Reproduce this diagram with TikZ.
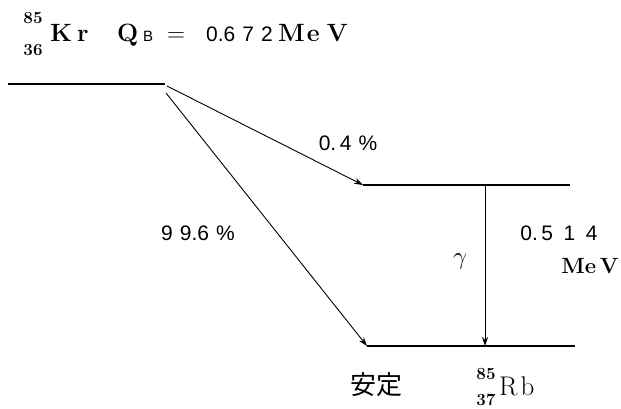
\documentclass[tikz,border=0pt]{standalone}
\usepackage{fontspec}
\newfontfamily\cjk{Noto Sans CJK JP}
\newfontfamily\digits{Liberation Sans}
\usetikzlibrary{arrows.meta,calc,positioning}
\tikzset{
  level/.style={line width=1.8pt},
  decay/.style={line width=0.9pt,-{Stealth[length=9pt,width=6pt]}},
  lbl/.style={inner sep=0pt,font=\fontsize{21}{24}\selectfont},
  big/.style={inner sep=0pt,anchor=base west,font=\fontsize{25}{28}\selectfont\bfseries},
  nuc/.style={inner sep=0pt,font=\fontsize{17}{19}\selectfont\bfseries},
}

\begin{document}
\begin{tikzpicture}[x=1pt,y=1pt]
      \useasboundingbox (0,0) rectangle (621,408);
      % levels
      \coordinate (krL) at (8,324);   \coordinate (krR) at (165,324);
      \coordinate (exL) at (363,223); \coordinate (exR) at (570,223);
      \coordinate (gsL) at (367,62);  \coordinate (gsR) at (575,62);
      \coordinate (gmT) at (485,223); \coordinate (gmB) at (485,62);
      \draw[level] (krL)--(krR);
      \draw[level] (exL)--(exR);
      \draw[level] (gsL)--(gsR);
      % transitions
      \coordinate (b1) at ($(krR)+(2,-2)$);
      \coordinate (b2) at (166,315);
      \draw[decay] (b1)--(exL);
      \draw[decay] (b2)--(gsL);
      \draw[decay] (gmT)--(gmB);
      % title line
      \node[nuc] (krA) at (33,390) {85};
      \node[nuc] (krZ) at (33,358) {36};
      \node[big] (kr) at (50,366) {K\hspace{5pt}r};
      \node[big] (q) at (117,366) {Q};
      \node[big,font=\fontsize{15}{17}\selectfont\digits] (qb) at (143,366) {B};
      \node[big,font=\fontsize{23}{26}\selectfont] (eq) at (167,366) {$=$};
      \node[big,font=\fontsize{21}{24}\selectfont\digits] (qval) at (206,366) {0.6\,\,7\,\,2};
      \node[big] (qunit) at (278,366) {M\hspace{2pt}e\hspace{7pt}V};
      % labels
      \node[lbl] (p1) at (348,265) {\digits 0.\,4\,\,\%};
      \node[lbl] (p2) at (198,175) {\digits 9\,\,9.6\,\,\%};
      \node[lbl,font=\fontsize{28}{30}\selectfont] (gam) at (460,146) {$\gamma$};
      \node[lbl] (en) at (559,175) {\digits 0.\,5\,\,\,1\,\,\,4};
      \node[lbl,font=\fontsize{22}{24}\selectfont\bfseries] (unit) at (590,142) {Me\,V};
      \node[lbl,font=\fontsize{26}{28}\selectfont] (stab) at (376,23) {\cjk 安定};
      \node[nuc] (rbA) at (486,34) {85};
      \node[nuc] (rbZ) at (486,8) {37};
      \node[big,font=\fontsize{27}{30}\selectfont] (rb) at (499,13) {R\hspace{3pt}b};
\end{tikzpicture}
\end{document}
